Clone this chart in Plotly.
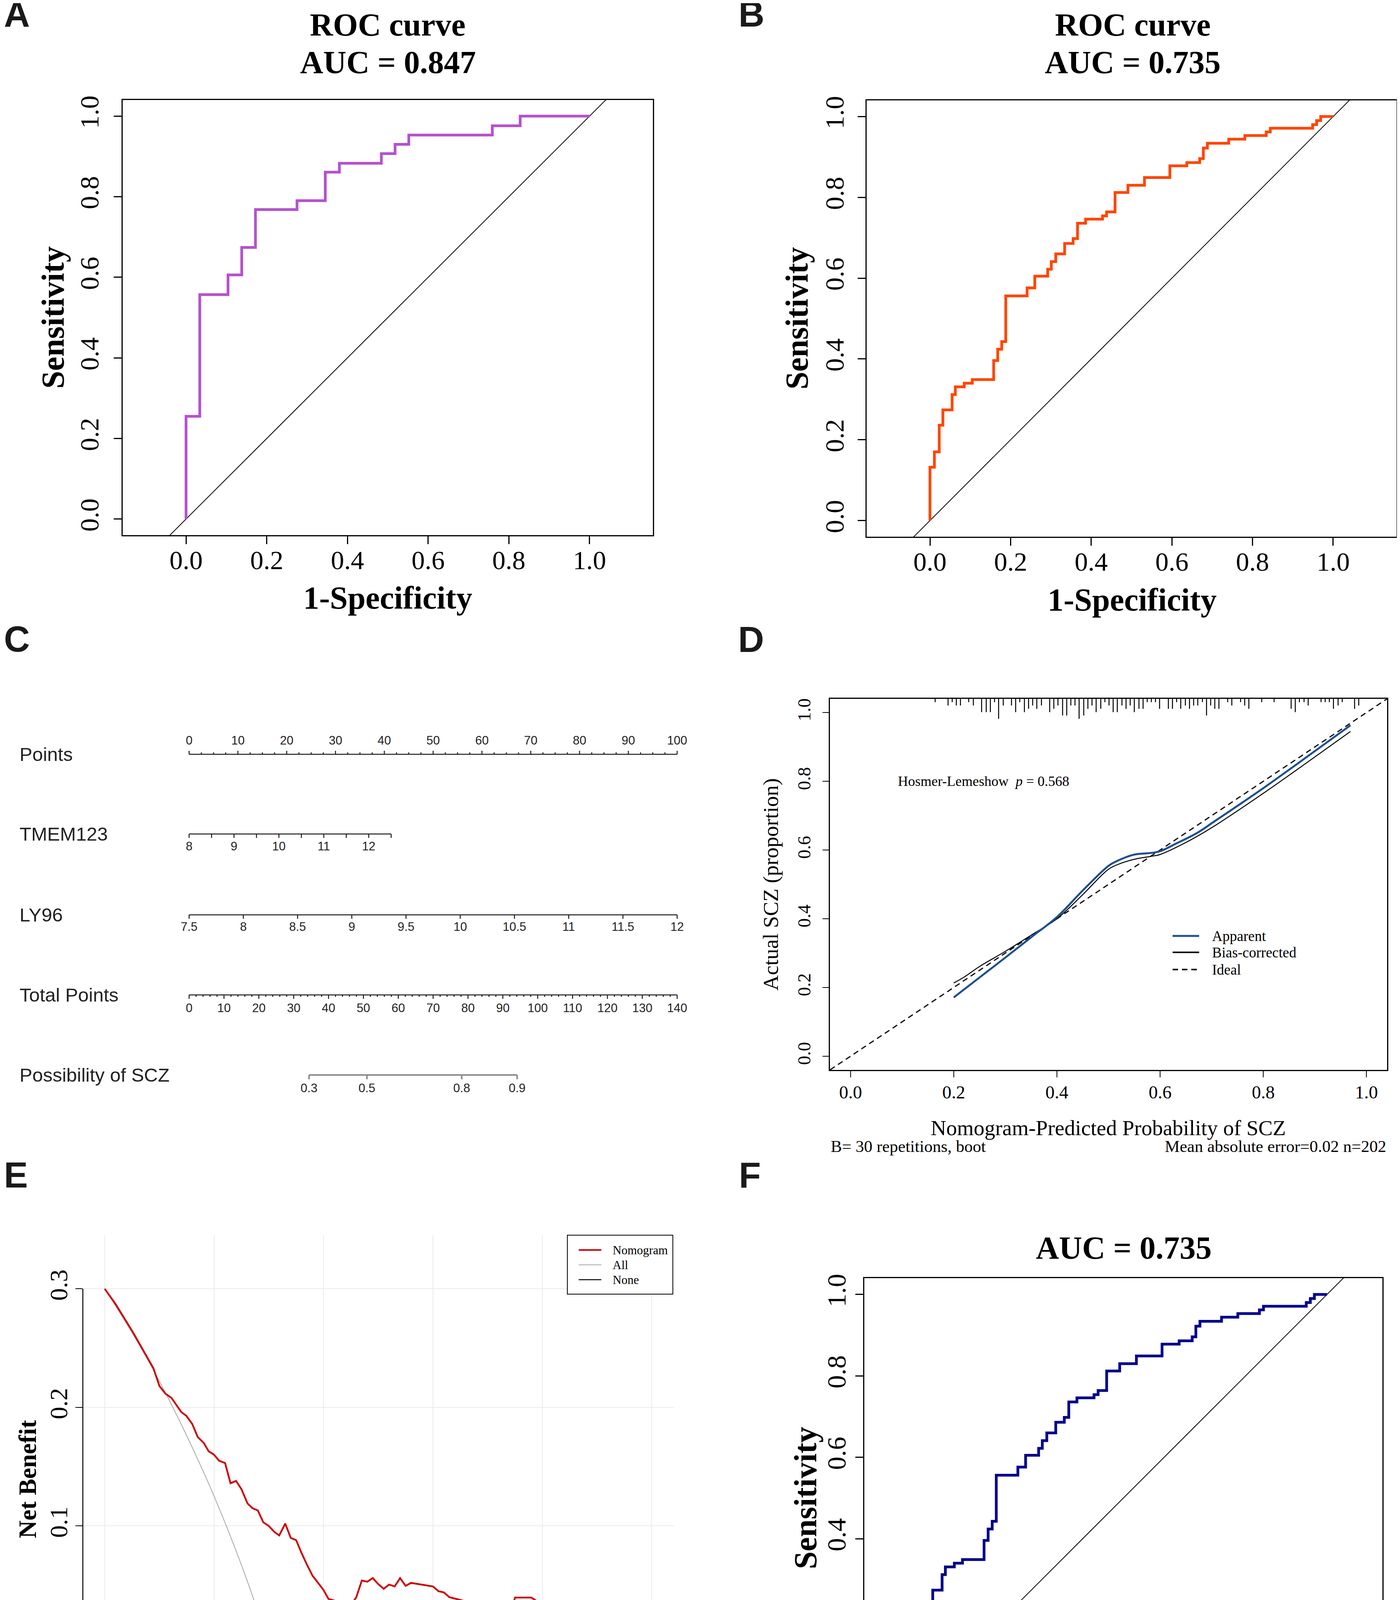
import numpy as np
import plotly.graph_objects as go

W, H = 3583, 4568
PAD = 8  # default body margin of the written page
SERIF = "Liberation Serif"
SANS = "Liberation Sans"

# ---------------- data ----------------
# A: ROC curve (training set)
roc_a_fpr = [0, 0, 0.034, 0.104, 0.138, 0.172, 0.275, 0.345, 0.380, 0.484, 0.518, 0.552, 0.759, 0.828, 1.0]
roc_a_tpr = [0, 0.255, 0.557, 0.606, 0.674, 0.768, 0.790, 0.861, 0.883, 0.907, 0.930, 0.953, 0.976, 1.0, 1.0]
auc_a = 0.847

# B / F: ROC curve (validation set)
roc_b_fpr = [0, 0, 0.011, 0.023, 0.032, 0.055, 0.063, 0.085, 0.105, 0.158, 0.168, 0.178, 0.188,
             0.241, 0.260, 0.292, 0.301, 0.312, 0.334, 0.355, 0.366, 0.386, 0.428, 0.438, 0.459,
             0.491, 0.532, 0.595, 0.637, 0.669, 0.678, 0.688, 0.741, 0.781, 0.834, 0.844, 0.949,
             0.959, 0.969, 1.0]
roc_b_tpr = [0, 0.132, 0.170, 0.236, 0.274, 0.312, 0.331, 0.340, 0.349, 0.396, 0.424, 0.443, 0.556,
             0.576, 0.605, 0.622, 0.641, 0.660, 0.686, 0.698, 0.736, 0.746, 0.754, 0.764, 0.812,
             0.830, 0.849, 0.878, 0.886, 0.896, 0.922, 0.934, 0.944, 0.953, 0.962, 0.971, 0.980,
             0.990, 1.0, 1.0]
auc_b = 0.735

# C: nomogram scales
points_labels = list(range(0, 101, 10))
tmem_labels = [8, 9, 10, 11, 12]
tmem_lo, tmem_hi = 8, 12.5
tmem_hi_points = 41.4          # points reached at TMEM123 = 12.5
ly96_labels = [7.5, 8, 8.5, 9, 9.5, 10, 10.5, 11, 11.5, 12]
ly96_lo, ly96_hi = 7.5, 12
total_labels = list(range(0, 141, 10))
total_max = 140
prob_labels = ["0.3", "0.5", "0.8", "0.9"]
prob_total_points = [34.4, 51.0, 78.2, 94.1]

# D: calibration
apparent_x = [0.20, 0.25, 0.30, 0.35, 0.40, 0.45, 0.50, 0.515, 0.548, 0.597, 0.63, 0.671, 0.704, 0.80, 0.90, 0.969]
apparent_y = [0.171, 0.229, 0.287, 0.346, 0.405, 0.482, 0.554, 0.567, 0.586, 0.595, 0.618, 0.649, 0.682, 0.78, 0.888, 0.963]
bias_x = [0.20, 0.22, 0.25, 0.30, 0.35, 0.40, 0.45, 0.50, 0.52, 0.55, 0.58, 0.60, 0.65, 0.70, 0.80, 0.90, 0.969]
bias_y = [0.213, 0.230, 0.261, 0.305, 0.352, 0.400, 0.470, 0.544, 0.559, 0.573, 0.581, 0.587, 0.622, 0.665, 0.765, 0.871, 0.945]
rug_x = [0.164, 0.189, 0.197, 0.205, 0.213, 0.229, 0.238, 0.254, 0.263, 0.271, 0.279, 0.287, 0.296,
         0.312, 0.320, 0.328, 0.337, 0.345, 0.353, 0.361, 0.370, 0.386, 0.394, 0.402, 0.411, 0.419,
         0.427, 0.435, 0.443, 0.452, 0.460, 0.468, 0.476, 0.485, 0.493, 0.501, 0.509, 0.517, 0.526,
         0.534, 0.542, 0.550, 0.559, 0.567, 0.575,
         0.583, 0.591, 0.599, 0.616, 0.624, 0.632, 0.640, 0.649, 0.657, 0.665, 0.673, 0.682, 0.690,
         0.698, 0.706, 0.714, 0.731, 0.739, 0.756, 0.764, 0.772, 0.797, 0.821, 0.854, 0.862, 0.870,
         0.879, 0.887, 0.912, 0.920, 0.928, 0.936, 0.945, 0.953, 0.977, 0.985]
rug_n = [1, 2, 1, 2, 2, 1, 2, 4, 4, 4, 1, 6, 2,
         2, 4, 1, 4, 3, 2, 3, 2, 4, 3, 2, 5, 5,
         2, 2, 6, 5, 3, 2, 4, 3, 1, 2, 4, 4, 2,
         3, 2, 4, 3, 3, 1,
         1, 1, 3, 3, 3, 1, 3, 2, 3, 2, 2, 1, 5,
         2, 3, 3, 1, 2, 1, 2, 3, 1, 1, 3, 4, 1,
         1, 2, 1, 1, 1, 3, 2, 1, 3, 2]
hl_p = 0.568
mae, n_obs, n_boot = 0.02, 202, 30

# E: decision curve
nb_x = [0, 0.02, 0.052, 0.077, 0.089, 0.100, 0.111, 0.122, 0.140, 0.149, 0.160, 0.170, 0.181, 0.190,
        0.200, 0.209, 0.220, 0.230, 0.240, 0.250, 0.261, 0.270, 0.280, 0.290, 0.300, 0.310, 0.319,
        0.330, 0.340, 0.350, 0.360, 0.370, 0.380, 0.390, 0.400, 0.409, 0.420, 0.431, 0.440, 0.450,
        0.460, 0.470, 0.480, 0.490, 0.500, 0.510, 0.520, 0.530, 0.540, 0.550, 0.560, 0.600, 0.610,
        0.620, 0.630, 0.680, 0.690, 0.700, 0.710, 0.721, 0.730, 0.740, 0.750, 0.780, 0.790, 0.800,
        0.810, 0.820, 0.830, 0.841, 0.850, 0.860, 0.870, 0.880, 0.920, 0.970, 0.990]
nb_y = [0.300, 0.287, 0.263, 0.2425, 0.233, 0.218, 0.2115, 0.208, 0.196, 0.193, 0.186, 0.175, 0.170,
        0.163, 0.160, 0.155, 0.153, 0.136, 0.138, 0.131, 0.119, 0.115, 0.113, 0.103, 0.100, 0.095,
        0.092, 0.102, 0.090, 0.088, 0.077, 0.067, 0.058, 0.052, 0.046, 0.0385, 0.037, 0.025, 0.030,
        0.033, 0.040, 0.054, 0.053, 0.056, 0.051, 0.047, 0.0506, 0.049, 0.056, 0.0495, 0.052, 0.049,
        0.045, 0.044, 0.040, 0.034, 0.0265, 0.0196, 0.030, 0.0265, 0.0255, 0.0217, 0.0396, 0.0396,
        0.0365, 0.0365, 0.034, 0.034, 0.031, 0.028, 0.022, 0.017, 0.017, 0.014, 0.014, 0.0, 0.0]
all_x = [0, 0.05, 0.10, 0.15, 0.20, 0.25, 0.30, 0.343]
all_y = [0.300, 0.263, 0.222, 0.176, 0.125, 0.067, 0.0, -0.065]
none_x = [0, 0.99]
none_y = [0, 0]


# ---------------- helpers (page pixel -> paper) ----------------
FW, FH = W - 2 * PAD, H - 2 * PAD


def fx(px):
    return (px - PAD) / FW


def fy(py):
    return 1 - (py - PAD) / FH


def note(text, x, y, size, family=SERIF, bold=False, angle=0, xanchor="center", color="black"):
    if bold:
        text = "<b>" + text + "</b>"
    return dict(text=text, x=fx(x), y=fy(y), xref="paper", yref="paper", showarrow=False,
                font=dict(family=family, size=size, color=color), textangle=angle,
                xanchor=xanchor, yanchor="middle")


def line_shape(x0, y0, x1, y1, color="black", width=2.5, dash="solid"):
    return dict(type="line", xref="paper", yref="paper", x0=fx(x0), y0=fy(y0), x1=fx(x1), y1=fy(y1),
                line=dict(color=color, width=width, dash=dash))


fig = go.Figure()
annotations = []
shapes = []
ticks01 = [0, 0.2, 0.4, 0.6, 0.8, 1.0]
ticks01_txt = ["0.0", "0.2", "0.4", "0.6", "0.8", "1.0"]


def roc_axes(i, left, right, top, bottom, xr, xoff, yoff):
    s = "" if i == 1 else str(i)
    common = dict(ticks="outside", ticklen=20, tickwidth=2.5, tickcolor="black", showline=True,
                  mirror=True, linecolor="black", linewidth=3, showgrid=False, zeroline=False,
                  tickfont=dict(family=SERIF, size=68, color="black"),
                  tickvals=ticks01, ticktext=ticks01_txt)
    fig.layout["xaxis" + s] = dict(domain=[fx(left), fx(right)], range=xr, anchor="y" + s,
                                   ticklabelstandoff=xoff, **common)
    fig.layout["yaxis" + s] = dict(domain=[fy(bottom), fy(top)], range=[-0.04, 1.04], anchor="x" + s,
                                   tickangle=-90, ticklabelstandoff=yoff, **common)


def roc_traces(i, fpr, tpr, color):
    s = "" if i == 1 else str(i)
    fig.add_trace(go.Scatter(x=[-0.2, 1.2], y=[-0.2, 1.2], mode="lines", line=dict(color="black", width=2),
                             xaxis="x" + s, yaxis="y" + s, hoverinfo="skip"))
    fig.add_trace(go.Scatter(x=fpr, y=tpr, mode="lines", line=dict(color=color, width=7, shape="hv"),
                             xaxis="x" + s, yaxis="y" + s))


# ---------------- A ----------------
roc_axes(1, 314, 1671, 256, 1370, [-0.157, 1.157], -18, 12)
roc_traces(1, roc_a_fpr, roc_a_tpr, "#B452CD")
annotations += [note("ROC curve", 993, 63, 82, bold=True),
                note(f"AUC = {auc_a:.3f}", 993, 160, 82, bold=True),
                note("1-Specificity", 993, 1530, 82, bold=True),
                note("Sensitivity", 135, 813, 82, bold=True, angle=-90)]

# ---------------- B ----------------
roc_axes(2, 2218, 3574, 257, 1374, [-0.157, 1.157], -18, 9)
roc_traces(2, roc_b_fpr, roc_b_tpr, "#FF4500")
annotations += [note("ROC curve", 2899, 63, 82, bold=True),
                note(f"AUC = {auc_b:.3f}", 2899, 160, 82, bold=True),
                note("1-Specificity", 2897, 1535, 82, bold=True),
                note("Sensitivity", 2039, 815, 82, bold=True, angle=-90)]

# ---------------- F ----------------
roc_axes(6, 2212, 3538, 3272, 4398, [-0.136, 1.136], -29, -2)
roc_traces(6, roc_b_fpr, roc_b_tpr, "#00008B")
annotations += [note(f"AUC = {auc_b:.3f}", 2876, 3194, 82, bold=True),
                note("1-Specificity", 2875, 4530, 82, bold=True),
                note("Sensitivity", 2061, 3835, 82, bold=True, angle=-90)]

# ---------------- C : nomogram ----------------
# x in "points" units (0..100 -> 484..1733 px on the page), y in page pixel rows
PPP = 12.49  # page px per point
fig.layout["xaxis3"] = dict(domain=[0, fx(1790)], range=[-(484 - PAD) / PPP, (1790 - 484) / PPP],
                            visible=False, anchor="y3")
fig.layout["yaxis3"] = dict(domain=[fy(2930), fy(1560)], range=[2930, 1560], visible=False, anchor="x3")
row_y = {"Points": 1931, "TMEM123": 2135, "LY96": 2342, "Total Points": 2547, "Possibility of SCZ": 2752}
lab_off = {"Points": -33, "TMEM123": 34, "LY96": 33, "Total Points": 36, "Possibility of SCZ": 36}


def ruler(lo, hi, y, ticks):
    xs, ys = [lo, hi, None], [y, y, None]
    for t, ln in ticks:
        xs += [t, t, None]
        ys += [y, y + ln, None]
    return xs, ys


def tmem_pts(v):
    return (np.asarray(v, dtype=float) - tmem_lo) / (tmem_hi - tmem_lo) * tmem_hi_points


def ly96_pts(v):
    return (np.asarray(v, dtype=float) - ly96_lo) / (ly96_hi - ly96_lo) * 100


def total_pts(v):
    return np.asarray(v, dtype=float) / total_max * 100


rows = []
y = row_y["Points"]
rows.append(ruler(0, 100, y, [(t, -9 if t % 10 == 0 else -5) for t in np.arange(0, 100.1, 2.5)]))
y = row_y["TMEM123"]
rows.append(ruler(0, tmem_hi_points, y, [(p, 10) for p in tmem_pts(np.arange(tmem_lo, tmem_hi + 0.01, 0.5))]))
y = row_y["LY96"]
rows.append(ruler(0, 100, y, [(p, 10) for p in ly96_pts(np.arange(ly96_lo, ly96_hi + 0.01, 0.5))]))
y = row_y["Total Points"]
tt = np.arange(0, total_max + 0.1, 2)
rows.append(ruler(0, 100, y, [(p, 10 if t % 10 == 0 else 5) for t, p in zip(tt, total_pts(tt))]))
for xs, ys in rows:
    fig.add_trace(go.Scatter(x=xs, y=ys, mode="lines", line=dict(color="#1a1a1a", width=2.5),
                             xaxis="x3", yaxis="y3", hoverinfo="skip"))
pp = total_pts(prob_total_points)
xs, ys = ruler(pp[0], pp[-1], row_y["Possibility of SCZ"], [(p, 11) for p in pp])
fig.add_trace(go.Scatter(x=xs, y=ys, mode="lines", line=dict(color="#8c8c8c", width=4),
                         xaxis="x3", yaxis="y3", hoverinfo="skip"))

tick_sets = [
    ("Points", points_labels, [str(v) for v in points_labels]),
    ("TMEM123", tmem_pts(tmem_labels), [str(v) for v in tmem_labels]),
    ("LY96", ly96_pts(ly96_labels), [f"{v:g}" for v in ly96_labels]),
    ("Total Points", total_pts(total_labels), [str(v) for v in total_labels]),
    ("Possibility of SCZ", pp, prob_labels),
]
for name, xpos, txt in tick_sets:
    fig.add_trace(go.Scatter(x=list(xpos), y=[row_y[name] + lab_off[name]] * len(txt), text=txt,
                             mode="text", textposition="middle center",
                             textfont=dict(family=SANS, size=31, color="#222222"),
                             xaxis="x3", yaxis="y3", hoverinfo="skip"))
    annotations.append(note(name, 48, row_y[name], 49, family=SANS, xanchor="left", color="#222222"))

# ---------------- D : calibration ----------------
d_common = dict(ticks="outside", ticklen=16, tickwidth=2, tickcolor="black", showline=True,
                mirror=True, linecolor="black", linewidth=2.5, showgrid=False, zeroline=False,
                tickvals=ticks01, ticktext=ticks01_txt, range=[-0.04, 1.04],
                tickfont=dict(family=SERIF, size=47, color="black"))
fig.layout["xaxis4"] = dict(domain=[fx(2124), fx(3550)], anchor="y4", ticklabelstandoff=-2, **d_common)
fig.layout["yaxis4"] = dict(domain=[fy(2739), fy(1789)], anchor="x4", tickangle=-90, ticklabelstandoff=12,
                            **d_common)
rug_unit = 0.0097
rx, ry = [], []
for xv, nv in zip(rug_x, rug_n):
    rx += [xv, xv, None]
    ry += [1.04, 1.04 - nv * rug_unit, None]
fig.add_trace(go.Scatter(x=rx, y=ry, mode="lines", line=dict(color="black", width=2.5),
                         xaxis="x4", yaxis="y4", hoverinfo="skip"))
fig.add_trace(go.Scatter(x=[-0.1, 1.1], y=[-0.1, 1.1], mode="lines",
                         line=dict(color="black", width=3, dash="14px,10px"),
                         xaxis="x4", yaxis="y4", hoverinfo="skip"))
fig.add_trace(go.Scatter(x=bias_x, y=bias_y, mode="lines", line=dict(color="black", width=2.5, shape="spline"),
                         xaxis="x4", yaxis="y4"))
fig.add_trace(go.Scatter(x=apparent_x, y=apparent_y, mode="lines",
                         line=dict(color="#1C4F92", width=5, shape="spline"), xaxis="x4", yaxis="y4"))
annotations.append(dict(text=f"Hosmer-Lemeshow&nbsp;&nbsp;<i>p</i> = {hl_p}", x=0.09, y=0.80, xref="x4",
                        yref="y4", showarrow=False, xanchor="left", yanchor="middle",
                        font=dict(family=SERIF, size=36, color="black")))
for (label, color, w, dash), yy in zip([("Apparent", "#1C4F92", 5, "solid"),
                                        ("Bias-corrected", "black", 4, "solid"),
                                        ("Ideal", "black", 4, "14px,10px")], [2396, 2438, 2482]):
    shapes.append(line_shape(3001, yy, 3069, yy, color=color, width=w, dash=dash))
    annotations.append(note(label, 3100, yy, 37, xanchor="left"))
annotations += [note("Nomogram-Predicted Probability of SCZ", 2836, 2887, 55),
                note("Actual SCZ (proportion)", 1972, 2264, 55, angle=-90),
                note(f"B= {n_boot} repetitions, boot", 2124, 2934, 43, xanchor="left"),
                note(f"Mean absolute error={mae} n={n_obs}", 3550, 2934, 43, xanchor="right")]

# ---------------- E : decision curve ----------------
e_common = dict(ticks="outside", ticklen=18, tickwidth=2, tickcolor="black", showline=False,
                showgrid=True, gridcolor="#EBEBEB", gridwidth=2, zeroline=False,
                tickfont=dict(family=SERIF, size=64, color="black"))
fig.layout["xaxis5"] = dict(domain=[fx(212), fx(1724)], range=[-0.04, 1.04], anchor="y5",
                            tickvals=ticks01, ticktext=ticks01_txt, ticklabelstandoff=-32, **e_common)
fig.layout["yaxis5"] = dict(domain=[fy(4408), fy(3162)], range=[-0.0652, 0.3452], anchor="x5",
                            tickvals=[0, 0.1, 0.2, 0.3], ticktext=["0.0", "0.1", "0.2", "0.3"],
                            tickangle=-90, ticklabelstandoff=-5, **e_common)
shapes.append(dict(type="line", xref="x5", yref="paper", x0=0, x1=1, y0=fy(4408), y1=fy(4408),
                   line=dict(color="black", width=2.5)))
shapes.append(dict(type="line", xref="paper", yref="y5", x0=fx(212), x1=fx(212), y0=0, y1=0.3,
                   line=dict(color="black", width=2.5)))
fig.add_trace(go.Scatter(x=none_x, y=none_y, mode="lines", line=dict(color="black", width=2.5),
                         xaxis="x5", yaxis="y5"))
fig.add_trace(go.Scatter(x=all_x, y=all_y, mode="lines", line=dict(color="#A6A6A6", width=2, shape="spline"),
                         xaxis="x5", yaxis="y5"))
fig.add_trace(go.Scatter(x=nb_x, y=nb_y, mode="lines", line=dict(color="#CC0000", width=4.5),
                         xaxis="x5", yaxis="y5"))
shapes.append(dict(type="rect", xref="paper", yref="paper", x0=fx(1452), x1=fx(1722), y0=fy(3313), y1=fy(3162),
                   line=dict(color="black", width=2), fillcolor="white"))
for (label, color, w), yy in zip([("Nomogram", "#CC0000", 4), ("All", "#A6A6A6", 2), ("None", "black", 2.5)],
                                 [3200, 3238, 3276]):
    shapes.append(line_shape(1481, yy, 1539, yy, color=color, width=w))
    annotations.append(note(label, 1566, yy, 31, xanchor="left"))
annotations += [note("Net Benefit", 71, 3787, 63, bold=True, angle=-90),
                note("High Risk Threshold", 968, 4542, 32)]

# ---------------- panel letters ----------------
for letter, x, y in [("A", 8, 36), ("B", 1888, 36), ("C", 8, 1636), ("D", 1887, 1637),
                     ("E", 8, 3008), ("F", 1889, 3008)]:
    annotations.append(note(letter, x, y, 92, family=SANS, bold=True, xanchor="left", color="#1a1a1a"))

fig.update_traces(showlegend=False)
fig.update_layout(width=FW, height=FH, margin=dict(l=0, r=0, t=0, b=0), template="none",
                  paper_bgcolor="white", plot_bgcolor="white", showlegend=False,
                  annotations=annotations, shapes=shapes)
fig.write_html("out.html")
